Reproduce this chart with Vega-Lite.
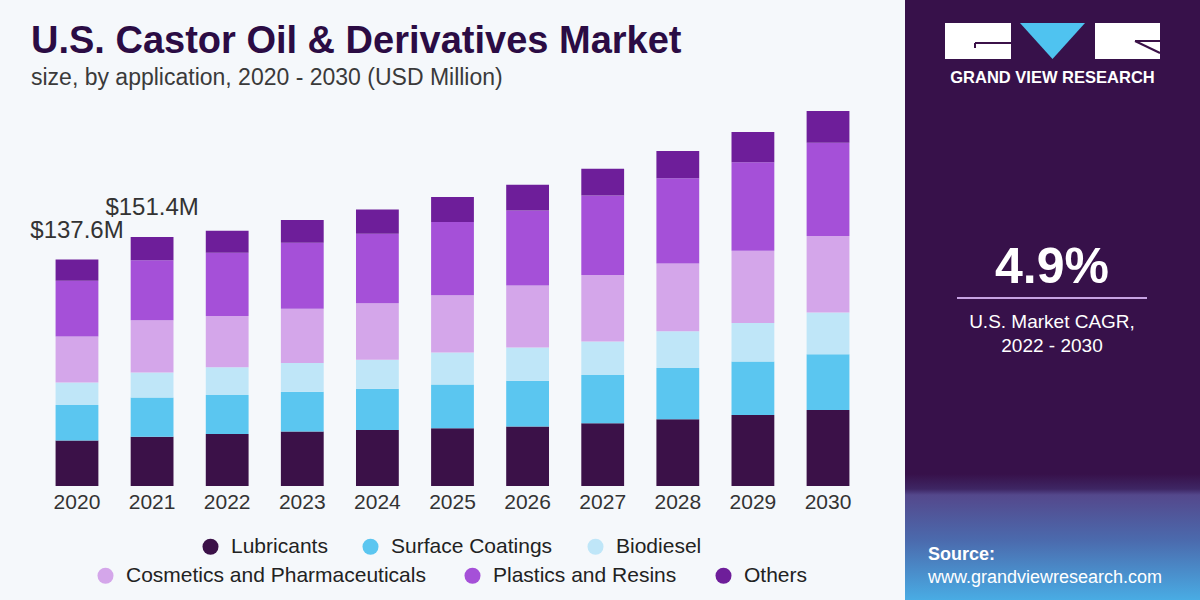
{
  "$schema": "https://vega.github.io/schema/vega-lite/v6.json",
  "background": "#f5f8fb",
  "padding": 0,
  "spacing": 0,
  "config": {"view": {"stroke": null}, "font": "Liberation Sans"},
  "datasets": {
    "market": [
      {"year": "2020", "application": "Lubricants", "rank": 1, "value": 27.6},
      {"year": "2020", "application": "Surface Coatings", "rank": 2, "value": 21.7},
      {"year": "2020", "application": "Biodiesel", "rank": 3, "value": 13.6},
      {"year": "2020", "application": "Cosmetics and Pharmaceuticals", "rank": 4, "value": 28.0},
      {"year": "2020", "application": "Plastics and Resins", "rank": 5, "value": 33.9},
      {"year": "2020", "application": "Others", "rank": 6, "value": 12.8},
      {"year": "2021", "application": "Lubricants", "rank": 1, "value": 29.9},
      {"year": "2021", "application": "Surface Coatings", "rank": 2, "value": 23.9},
      {"year": "2021", "application": "Biodiesel", "rank": 3, "value": 15.2},
      {"year": "2021", "application": "Cosmetics and Pharmaceuticals", "rank": 4, "value": 31.8},
      {"year": "2021", "application": "Plastics and Resins", "rank": 5, "value": 36.4},
      {"year": "2021", "application": "Others", "rank": 6, "value": 14.2},
      {"year": "2022", "application": "Lubricants", "rank": 1, "value": 31.6},
      {"year": "2022", "application": "Surface Coatings", "rank": 2, "value": 23.7},
      {"year": "2022", "application": "Biodiesel", "rank": 3, "value": 16.8},
      {"year": "2022", "application": "Cosmetics and Pharmaceuticals", "rank": 4, "value": 31.2},
      {"year": "2022", "application": "Plastics and Resins", "rank": 5, "value": 38.5},
      {"year": "2022", "application": "Others", "rank": 6, "value": 13.4},
      {"year": "2023", "application": "Lubricants", "rank": 1, "value": 33.1},
      {"year": "2023", "application": "Surface Coatings", "rank": 2, "value": 24.2},
      {"year": "2023", "application": "Biodiesel", "rank": 3, "value": 17.5},
      {"year": "2023", "application": "Cosmetics and Pharmaceuticals", "rank": 4, "value": 32.9},
      {"year": "2023", "application": "Plastics and Resins", "rank": 5, "value": 40.2},
      {"year": "2023", "application": "Others", "rank": 6, "value": 13.8},
      {"year": "2024", "application": "Lubricants", "rank": 1, "value": 34.1},
      {"year": "2024", "application": "Surface Coatings", "rank": 2, "value": 25.0},
      {"year": "2024", "application": "Biodiesel", "rank": 3, "value": 17.7},
      {"year": "2024", "application": "Cosmetics and Pharmaceuticals", "rank": 4, "value": 34.3},
      {"year": "2024", "application": "Plastics and Resins", "rank": 5, "value": 42.2},
      {"year": "2024", "application": "Others", "rank": 6, "value": 14.8},
      {"year": "2025", "application": "Lubricants", "rank": 1, "value": 35.1},
      {"year": "2025", "application": "Surface Coatings", "rank": 2, "value": 26.6},
      {"year": "2025", "application": "Biodiesel", "rank": 3, "value": 19.5},
      {"year": "2025", "application": "Cosmetics and Pharmaceuticals", "rank": 4, "value": 34.7},
      {"year": "2025", "application": "Plastics and Resins", "rank": 5, "value": 44.6},
      {"year": "2025", "application": "Others", "rank": 6, "value": 15.2},
      {"year": "2026", "application": "Lubricants", "rank": 1, "value": 36.1},
      {"year": "2026", "application": "Surface Coatings", "rank": 2, "value": 27.8},
      {"year": "2026", "application": "Biodiesel", "rank": 3, "value": 20.3},
      {"year": "2026", "application": "Cosmetics and Pharmaceuticals", "rank": 4, "value": 37.6},
      {"year": "2026", "application": "Plastics and Resins", "rank": 5, "value": 45.7},
      {"year": "2026", "application": "Others", "rank": 6, "value": 15.6},
      {"year": "2027", "application": "Lubricants", "rank": 1, "value": 38.2},
      {"year": "2027", "application": "Surface Coatings", "rank": 2, "value": 29.2},
      {"year": "2027", "application": "Biodiesel", "rank": 3, "value": 20.5},
      {"year": "2027", "application": "Cosmetics and Pharmaceuticals", "rank": 4, "value": 40.4},
      {"year": "2027", "application": "Plastics and Resins", "rank": 5, "value": 48.3},
      {"year": "2027", "application": "Others", "rank": 6, "value": 16.3},
      {"year": "2028", "application": "Lubricants", "rank": 1, "value": 40.6},
      {"year": "2028", "application": "Surface Coatings", "rank": 2, "value": 31.1},
      {"year": "2028", "application": "Biodiesel", "rank": 3, "value": 22.3},
      {"year": "2028", "application": "Cosmetics and Pharmaceuticals", "rank": 4, "value": 41.2},
      {"year": "2028", "application": "Plastics and Resins", "rank": 5, "value": 51.8},
      {"year": "2028", "application": "Others", "rank": 6, "value": 16.6},
      {"year": "2029", "application": "Lubricants", "rank": 1, "value": 43.2},
      {"year": "2029", "application": "Surface Coatings", "rank": 2, "value": 32.5},
      {"year": "2029", "application": "Biodiesel", "rank": 3, "value": 23.3},
      {"year": "2029", "application": "Cosmetics and Pharmaceuticals", "rank": 4, "value": 44.0},
      {"year": "2029", "application": "Plastics and Resins", "rank": 5, "value": 53.8},
      {"year": "2029", "application": "Others", "rank": 6, "value": 18.3},
      {"year": "2030", "application": "Lubricants", "rank": 1, "value": 46.2},
      {"year": "2030", "application": "Surface Coatings", "rank": 2, "value": 33.9},
      {"year": "2030", "application": "Biodiesel", "rank": 3, "value": 25.3},
      {"year": "2030", "application": "Cosmetics and Pharmaceuticals", "rank": 4, "value": 46.6},
      {"year": "2030", "application": "Plastics and Resins", "rank": 5, "value": 56.7},
      {"year": "2030", "application": "Others", "rank": 6, "value": 19.3}
    ],
    "totals": [
      {"year": "2020", "total": 137.6, "label": "$137.6M"},
      {"year": "2021", "total": 151.4, "label": "$151.4M"}
    ],
    "panel": [
      {"brand": "GRAND VIEW RESEARCH", "cagr": "4.9%", "cagrLabel": "U.S. Market CAGR,", "period": "2022 - 2030", "sourceLabel": "Source:", "source": "www.grandviewresearch.com"}
    ]
  },
  "hconcat": [
    {
      "width": 905,
      "height": 600,
      "title": {
        "text": "U.S. Castor Oil & Derivatives Market",
        "subtitle": "size, by application, 2020 - 2030 (USD Million)",
        "anchor": "start",
        "frame": "group",
        "offset": -90,
        "dx": 31,
        "font": "Liberation Sans",
        "fontSize": 38,
        "fontWeight": "bold",
        "color": "#2b0c44",
        "subtitleFont": "Liberation Sans",
        "subtitleFontSize": 23,
        "subtitleColor": "#3a3a3a",
        "subtitlePadding": 6
      },
      "layer": [
        {
          "data": {"name": "market"},
          "mark": {"type": "bar"},
          "encoding": {
            "x": {
              "field": "year", "type": "ordinal",
              "scale": {"paddingInner": 0.43, "paddingOuter": 0.74},
              "axis": {"orient": "bottom", "offset": -114, "title": null, "domain": false, "ticks": false, "labelAngle": 0, "labelFontSize": 21, "labelColor": "#333333", "labelFont": "Liberation Sans", "labelPadding": 5}
            },
            "y": {
              "field": "value", "type": "quantitative", "stack": "zero",
              "scale": {"domain": [-69.3, 295.4], "nice": false, "zero": false},
              "axis": null
            },
            "order": {"field": "rank", "type": "quantitative", "sort": "ascending"},
            "color": {
              "field": "application", "type": "nominal",
              "scale": {
                "domain": ["Lubricants", "Surface Coatings", "Biodiesel", "Cosmetics and Pharmaceuticals", "Plastics and Resins", "Others"],
                "range": ["#3b1148", "#5bc6f0", "#bfe6f8", "#d4a6ea", "#a550d8", "#6e1e9a"]
              },
              "legend": {
                "values": ["Lubricants", "Surface Coatings", "Biodiesel"],
                "orient": "none", "direction": "horizontal", "legendX": 200, "legendY": 536,
                "title": null, "symbolType": "circle", "symbolSize": 256, "symbolStrokeWidth": 0, "symbolOpacity": 1,
                "labelFontSize": 21, "labelFont": "Liberation Sans", "labelColor": "#222222", "labelOffset": 10,
                "columnPadding": 32, "padding": 0, "labelLimit": 400
              }
            }
          }
        },
        {
          "data": {"name": "market"},
          "mark": {"type": "point", "filled": true, "opacity": 0, "size": 1},
          "encoding": {
            "x": {"field": "year", "type": "ordinal"},
            "y": {"field": "value", "type": "quantitative"},
            "fill": {
              "field": "application", "type": "nominal",
              "scale": {
                "domain": ["Cosmetics and Pharmaceuticals", "Plastics and Resins", "Others"],
                "range": ["#d4a6ea", "#a550d8", "#6e1e9a"]
              },
              "legend": {
                "orient": "none", "direction": "horizontal", "legendX": 95, "legendY": 565,
                "title": null, "symbolType": "circle", "symbolSize": 256, "symbolStrokeWidth": 0, "symbolOpacity": 1,
                "labelFontSize": 21, "labelFont": "Liberation Sans", "labelColor": "#222222", "labelOffset": 10,
                "columnPadding": 36, "padding": 0, "labelLimit": 400
              }
            }
          }
        },
        {
          "data": {"name": "totals"},
          "mark": {"type": "text", "baseline": "bottom", "dy": -17, "fontSize": 24, "font": "Liberation Sans", "color": "#333333"},
          "encoding": {
            "x": {"field": "year", "type": "ordinal"},
            "y": {"field": "total", "type": "quantitative"},
            "text": {"field": "label"}
          }
        }
      ]
    },
    {
      "width": 295,
      "height": 600,
      "data": {"name": "panel"},
      "layer": [
        {
          "mark": {"type": "rect", "fill": {"gradient": "linear", "x1": 0, "y1": 0, "x2": 0, "y2": 1, "stops": [
            {"offset": 0, "color": "#37114a"},
            {"offset": 0.79, "color": "#37114a"},
            {"offset": 0.815, "color": "#3e2664"},
            {"offset": 0.825, "color": "#54488c"},
            {"offset": 0.9, "color": "#4b6aad"},
            {"offset": 1, "color": "#49ace4"}
          ]}},
          "encoding": {
            "x": {"datum": 0, "type": "quantitative", "scale": {"domain": [0, 295], "nice": false, "zero": false}, "axis": null},
            "x2": {"datum": 295},
            "y": {"datum": 0, "type": "quantitative", "scale": {"domain": [0, 600], "nice": false, "zero": false, "reverse": true}, "axis": null},
            "y2": {"datum": 600}
          }
        },
        {
          "mark": {"type": "rect", "fill": "#ffffff"},
          "encoding": {"x": {"datum": 40, "type": "quantitative"}, "x2": {"datum": 106}, "y": {"datum": 23, "type": "quantitative"}, "y2": {"datum": 59}}
        },
        {
          "mark": {"type": "rect", "fill": "#ffffff"},
          "encoding": {"x": {"datum": 190, "type": "quantitative"}, "x2": {"datum": 255}, "y": {"datum": 23, "type": "quantitative"}, "y2": {"datum": 59}}
        },
        {
          "mark": {"type": "point", "filled": true, "fill": "#4fc3f0", "opacity": 1, "shape": "M-1,-0.554L1,-0.554L0,0.554Z", "size": 4225},
          "encoding": {"x": {"datum": 147.5, "type": "quantitative"}, "y": {"datum": 41, "type": "quantitative"}}
        },
        {
          "mark": {"type": "rule", "color": "#3b1148", "strokeWidth": 2},
          "encoding": {"x": {"datum": 70, "type": "quantitative"}, "x2": {"datum": 106}, "y": {"datum": 43, "type": "quantitative"}}
        },
        {
          "mark": {"type": "rule", "color": "#3b1148", "strokeWidth": 2},
          "encoding": {"x": {"datum": 70, "type": "quantitative"}, "y": {"datum": 43, "type": "quantitative"}, "y2": {"datum": 48}}
        },
        {
          "mark": {"type": "rule", "color": "#3b1148", "strokeWidth": 2},
          "encoding": {"x": {"datum": 230, "type": "quantitative"}, "x2": {"datum": 255}, "y": {"datum": 41, "type": "quantitative"}}
        },
        {
          "mark": {"type": "rule", "color": "#3b1148", "strokeWidth": 2},
          "encoding": {"x": {"datum": 230, "type": "quantitative"}, "x2": {"datum": 255}, "y": {"datum": 41, "type": "quantitative"}, "y2": {"datum": 53}}
        },
        {
          "mark": {"type": "text", "align": "center", "baseline": "middle", "fontSize": 16.5, "fontWeight": "bold", "font": "Liberation Sans", "color": "#ffffff"},
          "encoding": {"x": {"datum": 147.5, "type": "quantitative"}, "y": {"datum": 78, "type": "quantitative"}, "text": {"field": "brand"}}
        },
        {
          "mark": {"type": "text", "align": "center", "baseline": "middle", "fontSize": 50, "fontWeight": "bold", "font": "Liberation Sans", "color": "#ffffff"},
          "encoding": {"x": {"datum": 147, "type": "quantitative"}, "y": {"datum": 268, "type": "quantitative"}, "text": {"field": "cagr"}}
        },
        {
          "mark": {"type": "rule", "color": "#c7a3e3", "strokeWidth": 2},
          "encoding": {"x": {"datum": 52, "type": "quantitative"}, "x2": {"datum": 242}, "y": {"datum": 298, "type": "quantitative"}}
        },
        {
          "mark": {"type": "text", "align": "center", "baseline": "middle", "fontSize": 19, "font": "Liberation Sans", "color": "#ffffff"},
          "encoding": {"x": {"datum": 147, "type": "quantitative"}, "y": {"datum": 322, "type": "quantitative"}, "text": {"field": "cagrLabel"}}
        },
        {
          "mark": {"type": "text", "align": "center", "baseline": "middle", "fontSize": 19, "font": "Liberation Sans", "color": "#ffffff"},
          "encoding": {"x": {"datum": 147, "type": "quantitative"}, "y": {"datum": 346, "type": "quantitative"}, "text": {"field": "period"}}
        },
        {
          "mark": {"type": "text", "align": "left", "baseline": "middle", "fontSize": 18, "fontWeight": "bold", "font": "Liberation Sans", "color": "#ffffff"},
          "encoding": {"x": {"datum": 23, "type": "quantitative"}, "y": {"datum": 555, "type": "quantitative"}, "text": {"field": "sourceLabel"}}
        },
        {
          "mark": {"type": "text", "align": "left", "baseline": "middle", "fontSize": 18, "font": "Liberation Sans", "color": "#ffffff"},
          "encoding": {"x": {"datum": 23, "type": "quantitative"}, "y": {"datum": 578, "type": "quantitative"}, "text": {"field": "source"}}
        }
      ]
    }
  ]
}
